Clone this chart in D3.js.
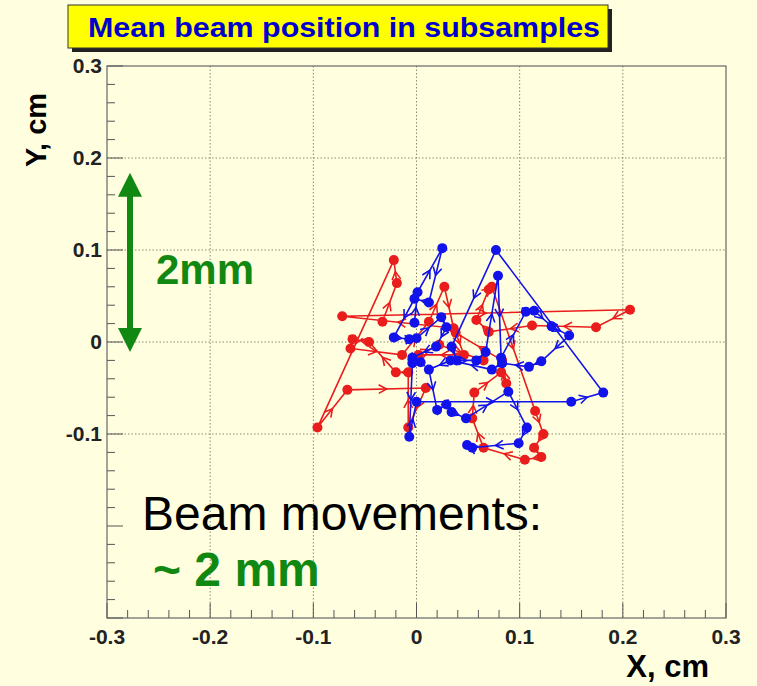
<!DOCTYPE html>
<html><head><meta charset="utf-8">
<script src="https://cdn.jsdelivr.net/npm/d3@7"></script>
<style>html,body{margin:0;padding:0;background:#FFFFE0;}svg{display:block;}</style>
</head><body><div id="c"></div>
<script>
const title = "Mean beam position in subsamples";
const xTicks = [-0.3,-0.2,-0.1,0,0.1,0.2,0.3];
const yTicks = [-0.1,0,0.1,0.2,0.3];
const xTickLabels = ["-0.3","-0.2","-0.1","0","0.1","0.2","0.3"];
const yTickLabels = ["-0.1","0","0.1","0.2","0.3"];
const redX = [-0.033,-0.019,-0.022,-0.096,-0.067,0.009,-0.008,-0.008,-0.020,-0.046,-0.062,-0.064,-0.014,0.012,0.027,0.036,-0.072,0.207,0.174,0.112,0.070,0.058,0.070,0.073,0.115,0.123,0.114,0.121,0.105,0.065,0.054,0.056,0.082,0.087,0.083,0.038,0.046,0.002,0.022,0.065];
const redY = [0.022,0.064,0.089,-0.093,-0.052,-0.050,-0.093,-0.033,-0.033,0.000,0.003,-0.007,-0.014,0.022,0.060,0.015,0.028,0.035,0.016,0.018,0.011,0.024,0.057,0.060,-0.075,-0.100,-0.115,-0.125,-0.128,-0.115,-0.083,-0.055,-0.033,-0.045,-0.020,0.010,-0.014,-0.014,-0.003,-0.020];
const blueX = [-0.002,0.001,0.025,0.012,-0.002,-0.022,-0.007,0.000,0.024,0.029,0.019,-0.004,0.004,-0.004,-0.007,0.000,0.150,0.181,0.077,0.034,0.039,0.058,0.067,0.079,0.082,0.106,0.114,0.131,0.148,0.121,0.109,0.083,0.073,0.033,0.012,0.020,0.029,0.034,0.048,0.089,0.107,0.099,0.054,0.049];
const blueY = [0.021,0.054,0.102,0.043,0.047,0.005,0.003,0.004,0.027,0.016,-0.005,-0.017,-0.022,-0.023,-0.103,-0.065,-0.065,-0.055,0.100,-0.005,-0.020,-0.020,-0.011,0.072,-0.017,0.033,0.034,0.017,0.007,-0.021,-0.027,-0.023,-0.030,-0.020,-0.030,-0.074,-0.068,-0.076,-0.083,-0.054,-0.093,-0.110,-0.115,-0.112];
const series = [
  {name:"red", color:"#ea1d1d", xs:redX, ys:redY},
  {name:"blue", color:"#1212ea", xs:blueX, ys:blueY}
];

const W=757,H=686;
const svg=d3.select("#c").append("svg").attr("width",W).attr("height",H);
svg.append("rect").attr("width",W).attr("height",H).attr("fill","#FFFFE0");

const L=107,R=726,T=66,B=618;
const x=d3.scaleLinear().domain([-0.3,0.3]).range([L,R]);
const y=d3.scaleLinear().domain([-0.3,0.3]).range([B,T]);
const lf="Liberation Sans, Arial, sans-serif";

// title box
svg.append("rect").attr("x",72).attr("y",9).attr("width",540).attr("height",43).attr("fill","#222");
svg.append("rect").attr("x",68).attr("y",5).attr("width",540).attr("height",43).attr("fill","#FFFF00").attr("stroke","#333").attr("stroke-width",1);
svg.append("text").attr("x",344).attr("y",37).attr("text-anchor","middle")
  .attr("font-family",lf).attr("font-weight","bold")
  .attr("font-size",27).attr("fill","#0000cc").attr("textLength",512).attr("lengthAdjust","spacingAndGlyphs").text(title);

// grid
const g=svg.append("g");
g.selectAll(".gx").data(xTicks.slice(1,-1)).join("line").attr("x1",d=>x(d)).attr("x2",d=>x(d)).attr("y1",T).attr("y2",B)
  .attr("stroke","#8a8a70").attr("stroke-width",1).attr("stroke-dasharray","1.5,2");
g.selectAll(".gy").data(yTicks.filter(d=>d<0.3)).join("line").attr("y1",d=>y(d)).attr("y2",d=>y(d)).attr("x1",L).attr("x2",R)
  .attr("stroke","#8a8a70").attr("stroke-width",1).attr("stroke-dasharray","1.5,2");

// ticks
const minor = d3.range(-0.3,0.3001,0.02).map(v=>+v.toFixed(2));
const isMajor = d=>Math.abs(d*10-Math.round(d*10))<1e-6;
svg.append("g").selectAll("line").data(minor).join("line")
  .attr("x1",d=>x(d)).attr("x2",d=>x(d)).attr("y1",B).attr("y2",d=>isMajor(d)?B-15:B-8)
  .attr("stroke","#555").attr("stroke-width",1);
svg.append("g").selectAll("line").data(minor).join("line")
  .attr("y1",d=>y(d)).attr("y2",d=>y(d)).attr("x1",L).attr("x2",d=>isMajor(d)?L+16:L+8)
  .attr("stroke","#555").attr("stroke-width",1);
svg.append("rect").attr("x",L).attr("y",T).attr("width",R-L).attr("height",B-T).attr("fill","none").attr("stroke","#666").attr("stroke-width",1.2);

// tick labels
svg.append("g").selectAll("text").data(xTicks).join("text").attr("x",d=>x(d)).attr("y",B+26).attr("text-anchor","middle")
  .attr("font-family",lf).attr("font-weight","bold").attr("font-size",21).attr("fill","#222").text((d,i)=>xTickLabels[i]);
svg.append("g").selectAll("text").data(yTicks).join("text").attr("x",L-5).attr("y",d=>y(d)+7).attr("text-anchor","end")
  .attr("font-family",lf).attr("font-weight","bold").attr("font-size",21).attr("fill","#222").text((d,i)=>yTickLabels[i]);

// axis titles
svg.append("text").attr("x",709).attr("y",677).attr("text-anchor","end").attr("font-family",lf).attr("font-weight","bold")
  .attr("font-size",31).attr("fill","#000").text("X, cm");
svg.append("text").attr("transform","translate(46,130) rotate(-90)").attr("text-anchor","middle").attr("font-family",lf).attr("font-weight","bold")
  .attr("font-size",29).attr("fill","#000").text("Y, cm");

// series
const pl=svg.append("g");
series.forEach(s=>{
  const pts=s.xs.map((v,i)=>[x(v),y(s.ys[i])]);
  pl.append("path").attr("d",d3.line()(pts)).attr("fill","none").attr("stroke",s.color).attr("stroke-width",1.6);
  const arrows=[];
  for(let i=0;i<pts.length-1;i++){
    const [x1,y1]=pts[i],[x2,y2]=pts[i+1];
    const mx=(x1+x2)/2,my=(y1+y2)/2,a=Math.atan2(y2-y1,x2-x1),l=9,w=0.5;
    arrows.push(`M${mx-l*Math.cos(a-w)},${my-l*Math.sin(a-w)}L${mx},${my}L${mx-l*Math.cos(a+w)},${my-l*Math.sin(a+w)}`);
  }
  pl.append("path").attr("d",arrows.join("")).attr("fill","none").attr("stroke",s.color).attr("stroke-width",1.6);
  pl.append("g").selectAll("circle").data(pts).join("circle").attr("cx",d=>d[0]).attr("cy",d=>d[1]).attr("r",5).attr("fill",s.color);
});

// green arrow annotation
const gr="#118811";
const ax=130, at=y(0.184), ab=y(-0.011);
svg.append("line").attr("x1",ax).attr("x2",ax).attr("y1",at+20).attr("y2",ab-20).attr("stroke",gr).attr("stroke-width",6);
svg.append("path").attr("d",`M${ax},${at}L${ax-12},${at+24}L${ax+12},${at+24}Z`).attr("fill",gr);
svg.append("path").attr("d",`M${ax},${ab}L${ax-12},${ab-24}L${ax+12},${ab-24}Z`).attr("fill",gr);
svg.append("text").attr("x",156).attr("y",284).attr("font-family",lf).attr("font-weight","bold").attr("font-size",42).attr("fill",gr).text("2mm");

svg.append("text").attr("x",142).attr("y",530).attr("font-family",lf).attr("font-size",48).attr("fill","#000").text("Beam movements:");
svg.append("text").attr("x",153).attr("y",586).attr("font-family",lf).attr("font-weight","bold").attr("font-size",48).attr("fill",gr).text("~ 2 mm");
</script></body></html>
